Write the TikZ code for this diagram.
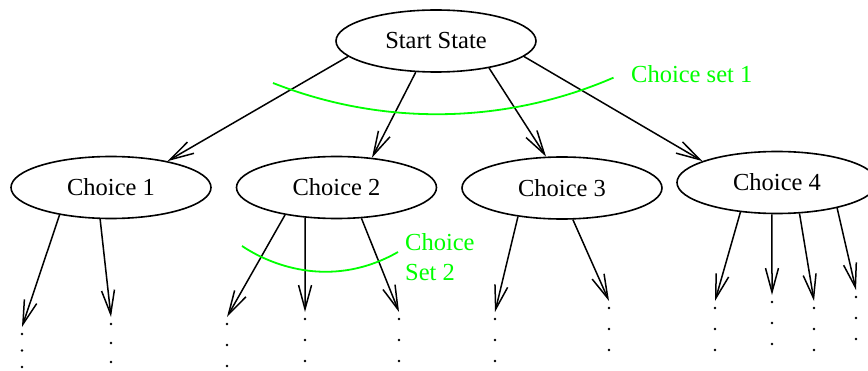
\documentclass[tikz,border=0pt]{standalone}
\usepackage{fontspec}
\setmainfont{Liberation Serif}
\usetikzlibrary{shapes.geometric,arrows.meta}

\begin{document}
\begin{tikzpicture}[x=1pt,y=1pt,
    state/.style={ellipse, draw, line width=1.6pt, minimum width=200pt,
      minimum height=62pt, inner sep=0pt, font=\fontsize{24.5}{29}\selectfont},
    move/.style={line width=1.5pt, -{Straight Barb[length=24pt,width=13pt]}},
    choiceset/.style={green, line width=1.8pt},
    setlabel/.style={text=green, inner sep=0pt, font=\fontsize{24.5}{30}\selectfont}]
    \useasboundingbox (0,0) rectangle (868,370);
    \node[state] (start) at (436,329) {Start State};
    \node[state] (c1) at (111,182.5) {Choice 1};
    \node[state] (c2) at (336.5,182.5) {Choice 2};
    \node[state] (c3) at (562,182) {Choice 3};
    \node[state] (c4) at (777,187.5) {Choice 4};
    % first moves
    \foreach \a/\c/\b in {190/c1/25, 237/c2/40, 333/c3/117, 350/c4/164}
    \draw[move] (start.\a) -- (\c.\b);
    % second moves, each ending above a column of dots
    \foreach \c/\a/\n/\x/\y/\s in {c1/208/l1/22/43/16.5, c1/251/l2/111/53/19,
      c2/208/l3/227/53/21, c2/224/l4/305/58/21, c2/309/l5/399/58/21,
      c3/213/l6/495/58/21, c3/289/l7/609/69/21,
      c4/219/l8/715/69/21, c4/261/l9/772/75/21, c4/306/l10/814/69/21,
      c4/337/l11/856/80/21}
    {
    \coordinate (\n) at (\x,\y);
    \draw[move] (\c.\a) -- (\n);
    \foreach \k in {0,1,2}
    \fill (\x,{\y-7-\k*\s}) circle (1.3pt);
    }
    % choice sets
    \draw[choiceset] (273,287) arc[start angle=248.4, end angle=293.4, radius=445];
    \draw[choiceset] (242,124) .. controls (275,102) and (335,82) .. (398,118);
    \node[setlabel, anchor=base west] (set1) at (631,287) {Choice set 1};
    \node[setlabel, anchor=west, align=left] (set2) at (405,113) {Choice\\Set 2};
\end{tikzpicture}
\end{document}
